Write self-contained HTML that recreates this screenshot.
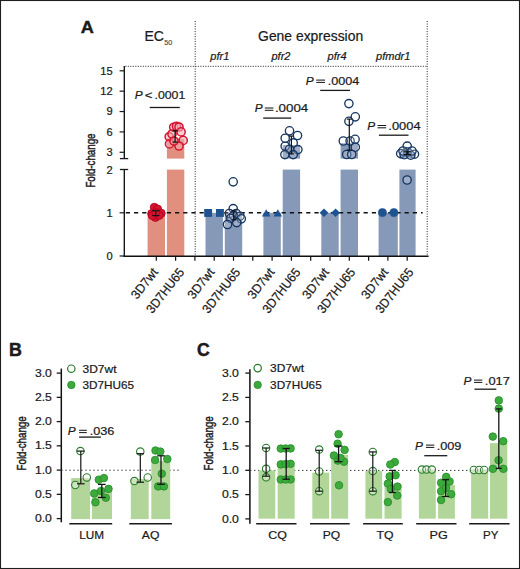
<!DOCTYPE html>
<html><head><meta charset="utf-8"><style>
html,body{margin:0;padding:0;background:#fff;}
svg{display:block;}
text{font-family:"Liberation Sans",sans-serif;stroke:#1a1a1a;stroke-width:0.22px;}
</style></head><body>
<svg width="520" height="569" viewBox="0 0 520 569">
<rect x="0" y="0" width="520" height="569" fill="#fff"/>
<rect x="0.5" y="0.5" width="519" height="568" fill="none" stroke="#1e1e1e" stroke-width="1.1"/>
<text x="80.7" y="32.8" font-size="17.4" text-anchor="start" fill="#1a1a1a" font-weight="bold" textLength="13.1" lengthAdjust="spacingAndGlyphs" style="stroke-width:0.4px">A</text>
<text x="144.5" y="41.3" font-size="14" text-anchor="start" fill="#1a1a1a" >EC</text>
<text x="164.3" y="44.7" font-size="7.2" text-anchor="start" fill="#3a3a3a" style="stroke:#3a3a3a;stroke-width:0.1px">50</text>
<text x="258.1" y="40.7" font-size="13.9" text-anchor="start" fill="#1a1a1a" >Gene expression</text>
<text x="210.3" y="59.8" font-size="11" text-anchor="start" fill="#1a1a1a" font-style="italic" >pfr1</text>
<text x="271.5" y="59.8" font-size="11" text-anchor="start" fill="#1a1a1a" font-style="italic" >pfr2</text>
<text x="327.6" y="59.8" font-size="11" text-anchor="start" fill="#1a1a1a" font-style="italic" >pfr4</text>
<text x="410.3" y="59.8" font-size="11" text-anchor="end" fill="#1a1a1a" font-style="italic" >pfmdr1</text>
<line x1="124.3" y1="66.3" x2="427.2" y2="66.3" stroke="#333" stroke-width="1.0" stroke-dasharray="1.1 1.4" stroke-dashoffset="-1.0"/>
<line x1="195.2" y1="21" x2="195.2" y2="255.5" stroke="#333" stroke-width="1.0" stroke-dasharray="1.1 1.4"/>
<line x1="427.2" y1="21" x2="427.2" y2="255.5" stroke="#333" stroke-width="1.0" stroke-dasharray="1.1 1.4"/>
<rect x="147.60" y="212.80" width="17.40" height="43.20" fill="#e1907f"/>
<rect x="166.90" y="169.60" width="17.40" height="86.40" fill="#e1907f"/>
<rect x="166.90" y="138.70" width="17.40" height="19.90" fill="#e1907f"/>
<rect x="205.50" y="212.80" width="17.40" height="43.20" fill="#8799b9"/>
<rect x="263.40" y="212.80" width="17.40" height="43.20" fill="#8799b9"/>
<rect x="321.30" y="212.80" width="17.40" height="43.20" fill="#8799b9"/>
<rect x="378.60" y="212.80" width="19.20" height="43.20" fill="#8799b9"/>
<rect x="224.80" y="212.80" width="17.40" height="43.20" fill="#8799b9"/>
<rect x="282.70" y="169.60" width="17.40" height="86.40" fill="#8799b9"/>
<rect x="340.60" y="169.60" width="17.40" height="86.40" fill="#8799b9"/>
<rect x="399.40" y="169.60" width="16.20" height="86.40" fill="#8799b9"/>
<rect x="399.40" y="152.00" width="16.20" height="6.60" fill="#8799b9"/>
<rect x="282.70" y="145.00" width="17.40" height="13.60" fill="#8799b9"/>
<rect x="340.60" y="143.20" width="17.40" height="15.40" fill="#8799b9"/>
<line x1="124.3" y1="212.8" x2="422.7" y2="212.8" stroke="#111" stroke-width="1.4" stroke-dasharray="4.2 4" stroke-dashoffset="-1.5"/>
<line x1="124.3" y1="66" x2="124.3" y2="158.6" stroke="#111" stroke-width="1.35" />
<line x1="119.9" y1="158.6" x2="128.2" y2="158.6" stroke="#1a1a1a" stroke-width="1.3" />
<line x1="124.3" y1="169.5" x2="124.3" y2="257.1" stroke="#111" stroke-width="1.35" />
<line x1="119.9" y1="169.5" x2="128.2" y2="169.5" stroke="#1a1a1a" stroke-width="1.3" />
<line x1="123.6" y1="256.3" x2="428.6" y2="256.3" stroke="#111" stroke-width="1.6" />
<line x1="119.6" y1="70.8" x2="124.3" y2="70.8" stroke="#1a1a1a" stroke-width="1.2" />
<text x="112.6" y="74.7" font-size="11.1" text-anchor="end" fill="#1a1a1a" >15</text>
<line x1="119.6" y1="91.17" x2="124.3" y2="91.17" stroke="#1a1a1a" stroke-width="1.2" />
<text x="112.6" y="95.07000000000001" font-size="11.1" text-anchor="end" fill="#1a1a1a" >12</text>
<line x1="119.6" y1="111.53999999999999" x2="124.3" y2="111.53999999999999" stroke="#1a1a1a" stroke-width="1.2" />
<text x="112.6" y="115.44" font-size="11.1" text-anchor="end" fill="#1a1a1a" >9</text>
<line x1="119.6" y1="131.91" x2="124.3" y2="131.91" stroke="#1a1a1a" stroke-width="1.2" />
<text x="112.6" y="135.81" font-size="11.1" text-anchor="end" fill="#1a1a1a" >6</text>
<line x1="119.6" y1="152.28" x2="124.3" y2="152.28" stroke="#1a1a1a" stroke-width="1.2" />
<text x="112.6" y="156.18" font-size="11.1" text-anchor="end" fill="#1a1a1a" >3</text>
<text x="112.6" y="173.5" font-size="11.1" text-anchor="end" fill="#1a1a1a" >2</text>
<line x1="119.6" y1="212.8" x2="124.3" y2="212.8" stroke="#1a1a1a" stroke-width="1.2" />
<text x="112.6" y="216.70000000000002" font-size="11.1" text-anchor="end" fill="#1a1a1a" >1</text>
<line x1="119.6" y1="256.0" x2="124.3" y2="256.0" stroke="#1a1a1a" stroke-width="1.2" />
<text x="112.6" y="259.9" font-size="11.1" text-anchor="end" fill="#1a1a1a" >0</text>
<line x1="156.3" y1="256.3" x2="156.3" y2="260.8" stroke="#111" stroke-width="1.2" />
<line x1="175.60000000000002" y1="256.3" x2="175.60000000000002" y2="260.8" stroke="#111" stroke-width="1.2" />
<line x1="194.9" y1="256.3" x2="194.9" y2="260.8" stroke="#111" stroke-width="1.2" />
<line x1="214.20000000000002" y1="256.3" x2="214.20000000000002" y2="260.8" stroke="#111" stroke-width="1.2" />
<line x1="233.5" y1="256.3" x2="233.5" y2="260.8" stroke="#111" stroke-width="1.2" />
<line x1="252.8" y1="256.3" x2="252.8" y2="260.8" stroke="#111" stroke-width="1.2" />
<line x1="272.1" y1="256.3" x2="272.1" y2="260.8" stroke="#111" stroke-width="1.2" />
<line x1="291.4" y1="256.3" x2="291.4" y2="260.8" stroke="#111" stroke-width="1.2" />
<line x1="310.70000000000005" y1="256.3" x2="310.70000000000005" y2="260.8" stroke="#111" stroke-width="1.2" />
<line x1="330.0" y1="256.3" x2="330.0" y2="260.8" stroke="#111" stroke-width="1.2" />
<line x1="349.3" y1="256.3" x2="349.3" y2="260.8" stroke="#111" stroke-width="1.2" />
<line x1="368.6" y1="256.3" x2="368.6" y2="260.8" stroke="#111" stroke-width="1.2" />
<line x1="387.90000000000003" y1="256.3" x2="387.90000000000003" y2="260.8" stroke="#111" stroke-width="1.2" />
<line x1="407.20000000000005" y1="256.3" x2="407.20000000000005" y2="260.8" stroke="#111" stroke-width="1.2" />
<text transform="translate(95.1,187.6) rotate(-90) scale(0.71,1)" font-size="13.7" fill="#1a1a1a" style="stroke-width:0.45px">Fold-change</text>
<text transform="translate(158.60,272.4) rotate(-52)" font-size="12.8" text-anchor="end" fill="#1a1a1a" textLength="35" lengthAdjust="spacingAndGlyphs">3D7wt</text>
<text transform="translate(215.10,272.4) rotate(-52)" font-size="12.8" text-anchor="end" fill="#1a1a1a" textLength="35" lengthAdjust="spacingAndGlyphs">3D7wt</text>
<text transform="translate(275.00,272.4) rotate(-52)" font-size="12.8" text-anchor="end" fill="#1a1a1a" textLength="35" lengthAdjust="spacingAndGlyphs">3D7wt</text>
<text transform="translate(329.70,272.4) rotate(-52)" font-size="12.8" text-anchor="end" fill="#1a1a1a" textLength="35" lengthAdjust="spacingAndGlyphs">3D7wt</text>
<text transform="translate(388.80,272.4) rotate(-52)" font-size="12.8" text-anchor="end" fill="#1a1a1a" textLength="35" lengthAdjust="spacingAndGlyphs">3D7wt</text>
<text transform="translate(185.00,272.4) rotate(-52)" font-size="12.8" text-anchor="end" fill="#1a1a1a" textLength="53" lengthAdjust="spacingAndGlyphs">3D7HU65</text>
<text transform="translate(240.90,272.4) rotate(-52)" font-size="12.8" text-anchor="end" fill="#1a1a1a" textLength="53" lengthAdjust="spacingAndGlyphs">3D7HU65</text>
<text transform="translate(301.10,272.4) rotate(-52)" font-size="12.8" text-anchor="end" fill="#1a1a1a" textLength="53" lengthAdjust="spacingAndGlyphs">3D7HU65</text>
<text transform="translate(355.80,272.4) rotate(-52)" font-size="12.8" text-anchor="end" fill="#1a1a1a" textLength="53" lengthAdjust="spacingAndGlyphs">3D7HU65</text>
<text transform="translate(414.10,272.4) rotate(-52)" font-size="12.8" text-anchor="end" fill="#1a1a1a" textLength="53" lengthAdjust="spacingAndGlyphs">3D7HU65</text>
<text x="134.85" y="99.1" font-size="11.8" font-style="italic" fill="#1a1a1a">P</text>
<text x="148.60" y="99.1" font-size="11.8" text-anchor="middle" fill="#1a1a1a" textLength="7.74" lengthAdjust="spacingAndGlyphs">&lt;</text>
<text x="154.50" y="99.1" font-size="11.8" fill="#1a1a1a" textLength="30.80" lengthAdjust="spacingAndGlyphs">.0001</text>
<line x1="149.7" y1="107.5" x2="179.8" y2="107.5" stroke="#1a1a1a" stroke-width="1.3" />
<text x="254.75" y="112.4" font-size="11.8" font-style="italic" fill="#1a1a1a">P</text>
<line x1="264.8" y1="108.0" x2="273.4" y2="108.0" stroke="#1a1a1a" stroke-width="1.05" />
<line x1="264.8" y1="110.30000000000001" x2="273.4" y2="110.30000000000001" stroke="#1a1a1a" stroke-width="1.05" />
<text x="274.92" y="112.4" font-size="11.8" fill="#1a1a1a" textLength="33.31" lengthAdjust="spacingAndGlyphs">.0004</text>
<line x1="263.2" y1="118.1" x2="291.2" y2="118.1" stroke="#1a1a1a" stroke-width="1.3" />
<text x="305.85" y="84.5" font-size="11.8" font-style="italic" fill="#1a1a1a">P</text>
<line x1="316.3" y1="80.1" x2="325.0" y2="80.1" stroke="#1a1a1a" stroke-width="1.05" />
<line x1="316.3" y1="82.4" x2="325.0" y2="82.4" stroke="#1a1a1a" stroke-width="1.05" />
<text x="327.68" y="84.5" font-size="11.8" fill="#1a1a1a" textLength="31.63" lengthAdjust="spacingAndGlyphs">.0004</text>
<line x1="320.2" y1="90.4" x2="350.0" y2="90.4" stroke="#1a1a1a" stroke-width="1.3" />
<text x="367.15" y="129.9" font-size="11.8" font-style="italic" fill="#1a1a1a">P</text>
<line x1="377.5" y1="125.5" x2="386.2" y2="125.5" stroke="#1a1a1a" stroke-width="1.05" />
<line x1="377.5" y1="127.80000000000001" x2="386.2" y2="127.80000000000001" stroke="#1a1a1a" stroke-width="1.05" />
<text x="388.35" y="129.9" font-size="11.8" fill="#1a1a1a" textLength="32.26" lengthAdjust="spacingAndGlyphs">.0004</text>
<line x1="378.9" y1="135.2" x2="408.5" y2="135.2" stroke="#1a1a1a" stroke-width="1.3" />
<circle cx="154.30" cy="207.30" r="4.0" fill="#d5152f" stroke="#b8001e" stroke-width="0.9"/>
<circle cx="157.60" cy="209.00" r="4.0" fill="#d5152f" stroke="#b8001e" stroke-width="0.9"/>
<circle cx="151.70" cy="213.60" r="4.0" fill="#d5152f" stroke="#b8001e" stroke-width="0.9"/>
<circle cx="161.20" cy="213.20" r="4.0" fill="#d5152f" stroke="#b8001e" stroke-width="0.9"/>
<circle cx="155.40" cy="217.40" r="4.0" fill="#d5152f" stroke="#b8001e" stroke-width="0.9"/>
<circle cx="152.40" cy="215.60" r="4.0" fill="#d5152f" stroke="#b8001e" stroke-width="0.9"/>
<circle cx="159.20" cy="215.40" r="4.0" fill="#d5152f" stroke="#b8001e" stroke-width="0.9"/>
<circle cx="156.00" cy="212.50" r="4.0" fill="#d5152f" stroke="#b8001e" stroke-width="0.9"/>
<line x1="155.8" y1="210.7" x2="155.8" y2="215.6" stroke="#141414" stroke-width="1.2" />
<line x1="152.20000000000002" y1="210.7" x2="159.4" y2="210.7" stroke="#141414" stroke-width="1.2" />
<line x1="152.20000000000002" y1="215.6" x2="159.4" y2="215.6" stroke="#141414" stroke-width="1.2" />
<circle cx="173.70" cy="127.30" r="4.1" fill="#f4aab4" fill-opacity="0.55" stroke="#d5152f" stroke-width="1.5"/>
<circle cx="176.50" cy="126.30" r="4.1" fill="#f4aab4" fill-opacity="0.55" stroke="#d5152f" stroke-width="1.5"/>
<circle cx="179.00" cy="127.00" r="4.1" fill="#f4aab4" fill-opacity="0.55" stroke="#d5152f" stroke-width="1.5"/>
<circle cx="181.10" cy="131.90" r="4.1" fill="#f4aab4" fill-opacity="0.55" stroke="#d5152f" stroke-width="1.5"/>
<circle cx="169.20" cy="136.80" r="4.1" fill="#f4aab4" fill-opacity="0.55" stroke="#d5152f" stroke-width="1.5"/>
<circle cx="172.00" cy="134.00" r="4.1" fill="#f4aab4" fill-opacity="0.55" stroke="#d5152f" stroke-width="1.5"/>
<circle cx="183.20" cy="140.40" r="4.1" fill="#f4aab4" fill-opacity="0.55" stroke="#d5152f" stroke-width="1.5"/>
<circle cx="169.50" cy="143.90" r="4.1" fill="#f4aab4" fill-opacity="0.55" stroke="#d5152f" stroke-width="1.5"/>
<circle cx="179.00" cy="146.00" r="4.1" fill="#f4aab4" fill-opacity="0.55" stroke="#d5152f" stroke-width="1.5"/>
<circle cx="174.00" cy="141.00" r="4.1" fill="#f4aab4" fill-opacity="0.55" stroke="#d5152f" stroke-width="1.5"/>
<line x1="175.1" y1="130.8" x2="175.1" y2="142.1" stroke="#141414" stroke-width="1.3" />
<line x1="172.6" y1="130.8" x2="177.6" y2="130.8" stroke="#141414" stroke-width="1.3" />
<line x1="172.6" y1="142.1" x2="177.6" y2="142.1" stroke="#141414" stroke-width="1.3" />
<rect x="204.20" y="209.0" width="7.9" height="7.9" fill="#1d5391"/>
<rect x="216.00" y="209.0" width="7.9" height="7.9" fill="#1d5391"/>
<circle cx="233.20" cy="181.80" r="4.15" fill="#ffffff" fill-opacity="0.2" stroke="#163762" stroke-width="1.35"/>
<circle cx="233.20" cy="208.60" r="4.15" fill="#ffffff" fill-opacity="0.2" stroke="#163762" stroke-width="1.35"/>
<circle cx="229.40" cy="213.50" r="4.15" fill="#ffffff" fill-opacity="0.2" stroke="#163762" stroke-width="1.35"/>
<circle cx="236.20" cy="213.50" r="4.15" fill="#ffffff" fill-opacity="0.2" stroke="#163762" stroke-width="1.35"/>
<circle cx="233.50" cy="215.60" r="4.15" fill="#ffffff" fill-opacity="0.2" stroke="#163762" stroke-width="1.35"/>
<circle cx="239.90" cy="216.20" r="4.15" fill="#ffffff" fill-opacity="0.2" stroke="#163762" stroke-width="1.35"/>
<circle cx="241.30" cy="218.80" r="4.15" fill="#ffffff" fill-opacity="0.2" stroke="#163762" stroke-width="1.35"/>
<circle cx="230.80" cy="218.30" r="4.15" fill="#ffffff" fill-opacity="0.2" stroke="#163762" stroke-width="1.35"/>
<circle cx="236.70" cy="222.60" r="4.15" fill="#ffffff" fill-opacity="0.2" stroke="#163762" stroke-width="1.35"/>
<circle cx="227.50" cy="224.50" r="4.15" fill="#ffffff" fill-opacity="0.2" stroke="#163762" stroke-width="1.35"/>
<line x1="233.7" y1="210.8" x2="233.7" y2="219.9" stroke="#141414" stroke-width="1.2" />
<line x1="231.2" y1="210.8" x2="236.2" y2="210.8" stroke="#141414" stroke-width="1.2" />
<line x1="231.2" y1="219.9" x2="236.2" y2="219.9" stroke="#141414" stroke-width="1.2" />
<polygon points="261.90,216.5 270.50,216.5 266.20,209.2" fill="#1d5391"/>
<polygon points="273.50,216.5 282.10,216.5 277.80,209.2" fill="#1d5391"/>
<circle cx="289.50" cy="130.80" r="4.15" fill="#ffffff" fill-opacity="0.2" stroke="#163762" stroke-width="1.35"/>
<circle cx="297.50" cy="135.50" r="4.15" fill="#ffffff" fill-opacity="0.2" stroke="#163762" stroke-width="1.35"/>
<circle cx="285.20" cy="138.20" r="4.15" fill="#ffffff" fill-opacity="0.2" stroke="#163762" stroke-width="1.35"/>
<circle cx="293.20" cy="142.90" r="4.15" fill="#ffffff" fill-opacity="0.2" stroke="#163762" stroke-width="1.35"/>
<circle cx="285.20" cy="146.20" r="4.15" fill="#ffffff" fill-opacity="0.2" stroke="#163762" stroke-width="1.35"/>
<circle cx="289.50" cy="149.30" r="4.15" fill="#ffffff" fill-opacity="0.2" stroke="#163762" stroke-width="1.35"/>
<circle cx="297.90" cy="149.60" r="4.15" fill="#ffffff" fill-opacity="0.2" stroke="#163762" stroke-width="1.35"/>
<circle cx="284.90" cy="154.60" r="4.15" fill="#ffffff" fill-opacity="0.2" stroke="#163762" stroke-width="1.35"/>
<circle cx="293.20" cy="154.60" r="4.15" fill="#ffffff" fill-opacity="0.2" stroke="#163762" stroke-width="1.35"/>
<line x1="291.4" y1="136.1" x2="291.4" y2="153.9" stroke="#141414" stroke-width="1.2" />
<line x1="288.9" y1="136.1" x2="293.9" y2="136.1" stroke="#141414" stroke-width="1.2" />
<line x1="288.9" y1="153.9" x2="293.9" y2="153.9" stroke="#141414" stroke-width="1.2" />
<polygon points="324.00,208.4 328.40,212.7 324.00,217.0 319.60,212.7" fill="#1d5391"/>
<polygon points="335.60,208.4 340.00,212.7 335.60,217.0 331.20,212.7" fill="#1d5391"/>
<circle cx="348.90" cy="103.60" r="4.15" fill="#ffffff" fill-opacity="0.2" stroke="#163762" stroke-width="1.35"/>
<circle cx="355.30" cy="116.80" r="4.15" fill="#ffffff" fill-opacity="0.2" stroke="#163762" stroke-width="1.35"/>
<circle cx="348.90" cy="121.30" r="4.15" fill="#ffffff" fill-opacity="0.2" stroke="#163762" stroke-width="1.35"/>
<circle cx="343.30" cy="141.00" r="4.15" fill="#ffffff" fill-opacity="0.2" stroke="#163762" stroke-width="1.35"/>
<circle cx="350.10" cy="141.00" r="4.15" fill="#ffffff" fill-opacity="0.2" stroke="#163762" stroke-width="1.35"/>
<circle cx="355.10" cy="139.30" r="4.15" fill="#ffffff" fill-opacity="0.2" stroke="#163762" stroke-width="1.35"/>
<circle cx="355.30" cy="147.20" r="4.15" fill="#ffffff" fill-opacity="0.2" stroke="#163762" stroke-width="1.35"/>
<circle cx="346.70" cy="154.50" r="4.15" fill="#ffffff" fill-opacity="0.2" stroke="#163762" stroke-width="1.35"/>
<circle cx="351.70" cy="154.50" r="4.15" fill="#ffffff" fill-opacity="0.2" stroke="#163762" stroke-width="1.35"/>
<line x1="349.3" y1="119.1" x2="349.3" y2="150" stroke="#141414" stroke-width="1.2" />
<line x1="346.8" y1="119.1" x2="351.8" y2="119.1" stroke="#141414" stroke-width="1.2" />
<line x1="346.8" y1="150" x2="351.8" y2="150" stroke="#141414" stroke-width="1.2" />
<circle cx="382.40" cy="212.60" r="4.1" fill="#1d5391" stroke="#1d5391" stroke-width="0.5"/>
<circle cx="393.90" cy="212.60" r="4.1" fill="#1d5391" stroke="#1d5391" stroke-width="0.5"/>
<circle cx="407.20" cy="146.10" r="4.15" fill="#ffffff" fill-opacity="0.2" stroke="#163762" stroke-width="1.35"/>
<circle cx="400.70" cy="153.60" r="4.15" fill="#ffffff" fill-opacity="0.2" stroke="#163762" stroke-width="1.35"/>
<circle cx="414.50" cy="154.20" r="4.15" fill="#ffffff" fill-opacity="0.2" stroke="#163762" stroke-width="1.35"/>
<circle cx="407.50" cy="152.00" r="4.15" fill="#ffffff" fill-opacity="0.2" stroke="#163762" stroke-width="1.35"/>
<circle cx="404.20" cy="154.70" r="4.15" fill="#ffffff" fill-opacity="0.2" stroke="#163762" stroke-width="1.35"/>
<circle cx="410.70" cy="155.20" r="4.15" fill="#ffffff" fill-opacity="0.2" stroke="#163762" stroke-width="1.35"/>
<circle cx="403.00" cy="151.00" r="4.15" fill="#ffffff" fill-opacity="0.2" stroke="#163762" stroke-width="1.35"/>
<circle cx="412.00" cy="151.00" r="4.15" fill="#ffffff" fill-opacity="0.2" stroke="#163762" stroke-width="1.35"/>
<circle cx="407.10" cy="180.00" r="4.15" fill="#ffffff" fill-opacity="0.2" stroke="#163762" stroke-width="1.35"/>
<line x1="407.3" y1="151.8" x2="407.3" y2="154.6" stroke="#141414" stroke-width="1.2" />
<line x1="403.8" y1="151.8" x2="410.8" y2="151.8" stroke="#141414" stroke-width="1.2" />
<line x1="403.8" y1="154.6" x2="410.8" y2="154.6" stroke="#141414" stroke-width="1.2" />
<text x="9.0" y="355.8" font-size="17.8" text-anchor="start" fill="#1a1a1a" font-weight="bold" style="stroke-width:0.5px">B</text>
<text x="197.0" y="355.6" font-size="17.6" text-anchor="start" fill="#1a1a1a" font-weight="bold" style="stroke-width:0.5px">C</text>
<line x1="61.3" y1="368.6" x2="61.3" y2="522.3" stroke="#111" stroke-width="1.5" />
<line x1="56.699999999999996" y1="518.6" x2="61.3" y2="518.6" stroke="#1a1a1a" stroke-width="1.3" />
<text x="51.9" y="522.2" font-size="11.3" text-anchor="end" fill="#1a1a1a" textLength="17.0" lengthAdjust="spacingAndGlyphs" >0.0</text>
<line x1="56.699999999999996" y1="494.35" x2="61.3" y2="494.35" stroke="#1a1a1a" stroke-width="1.3" />
<text x="51.9" y="497.95000000000005" font-size="11.3" text-anchor="end" fill="#1a1a1a" textLength="17.0" lengthAdjust="spacingAndGlyphs" >0.5</text>
<line x1="56.699999999999996" y1="470.1" x2="61.3" y2="470.1" stroke="#1a1a1a" stroke-width="1.3" />
<text x="51.9" y="473.70000000000005" font-size="11.3" text-anchor="end" fill="#1a1a1a" textLength="17.0" lengthAdjust="spacingAndGlyphs" >1.0</text>
<line x1="56.699999999999996" y1="445.85" x2="61.3" y2="445.85" stroke="#1a1a1a" stroke-width="1.3" />
<text x="51.9" y="449.45000000000005" font-size="11.3" text-anchor="end" fill="#1a1a1a" textLength="17.0" lengthAdjust="spacingAndGlyphs" >1.5</text>
<line x1="56.699999999999996" y1="421.6" x2="61.3" y2="421.6" stroke="#1a1a1a" stroke-width="1.3" />
<text x="51.9" y="425.20000000000005" font-size="11.3" text-anchor="end" fill="#1a1a1a" textLength="17.0" lengthAdjust="spacingAndGlyphs" >2.0</text>
<line x1="56.699999999999996" y1="397.35" x2="61.3" y2="397.35" stroke="#1a1a1a" stroke-width="1.3" />
<text x="51.9" y="400.95000000000005" font-size="11.3" text-anchor="end" fill="#1a1a1a" textLength="17.0" lengthAdjust="spacingAndGlyphs" >2.5</text>
<line x1="56.699999999999996" y1="373.1" x2="61.3" y2="373.1" stroke="#1a1a1a" stroke-width="1.3" />
<text x="51.9" y="376.70000000000005" font-size="11.3" text-anchor="end" fill="#1a1a1a" textLength="17.0" lengthAdjust="spacingAndGlyphs" >3.0</text>
<line x1="249.9" y1="369.2" x2="249.9" y2="523.8" stroke="#111" stroke-width="1.5" />
<line x1="245.3" y1="518.9" x2="249.9" y2="518.9" stroke="#1a1a1a" stroke-width="1.3" />
<text x="238.9" y="522.5" font-size="11.3" text-anchor="end" fill="#1a1a1a" textLength="17.0" lengthAdjust="spacingAndGlyphs" >0.0</text>
<line x1="245.3" y1="494.59999999999997" x2="249.9" y2="494.59999999999997" stroke="#1a1a1a" stroke-width="1.3" />
<text x="238.9" y="498.2" font-size="11.3" text-anchor="end" fill="#1a1a1a" textLength="17.0" lengthAdjust="spacingAndGlyphs" >0.5</text>
<line x1="245.3" y1="470.29999999999995" x2="249.9" y2="470.29999999999995" stroke="#1a1a1a" stroke-width="1.3" />
<text x="238.9" y="473.9" font-size="11.3" text-anchor="end" fill="#1a1a1a" textLength="17.0" lengthAdjust="spacingAndGlyphs" >1.0</text>
<line x1="245.3" y1="446.0" x2="249.9" y2="446.0" stroke="#1a1a1a" stroke-width="1.3" />
<text x="238.9" y="449.6" font-size="11.3" text-anchor="end" fill="#1a1a1a" textLength="17.0" lengthAdjust="spacingAndGlyphs" >1.5</text>
<line x1="245.3" y1="421.7" x2="249.9" y2="421.7" stroke="#1a1a1a" stroke-width="1.3" />
<text x="238.9" y="425.3" font-size="11.3" text-anchor="end" fill="#1a1a1a" textLength="17.0" lengthAdjust="spacingAndGlyphs" >2.0</text>
<line x1="245.3" y1="397.4" x2="249.9" y2="397.4" stroke="#1a1a1a" stroke-width="1.3" />
<text x="238.9" y="401.0" font-size="11.3" text-anchor="end" fill="#1a1a1a" textLength="17.0" lengthAdjust="spacingAndGlyphs" >2.5</text>
<line x1="245.3" y1="373.09999999999997" x2="249.9" y2="373.09999999999997" stroke="#1a1a1a" stroke-width="1.3" />
<text x="238.9" y="376.7" font-size="11.3" text-anchor="end" fill="#1a1a1a" textLength="17.0" lengthAdjust="spacingAndGlyphs" >3.0</text>
<text transform="translate(25.8,470.4) rotate(-90) scale(0.71,1)" font-size="13.7" fill="#1a1a1a" style="stroke-width:0.45px">Fold-change</text>
<text transform="translate(213.3,470.4) rotate(-90) scale(0.71,1)" font-size="13.7" fill="#1a1a1a" style="stroke-width:0.45px">Fold-change</text>
<circle cx="71.30" cy="368.70" r="3.7" fill="#ffffff" stroke="#2a7a2e" stroke-width="1.2"/>
<circle cx="71.30" cy="385.00" r="3.7" fill="#3cab3c" stroke="#248a2a" stroke-width="0.8"/>
<text x="82.5" y="372.8" font-size="11.4" text-anchor="start" fill="#1a1a1a" textLength="34.0" lengthAdjust="spacingAndGlyphs" >3D7wt</text>
<text x="82.5" y="389.1" font-size="11.4" text-anchor="start" fill="#1a1a1a" textLength="51.6" lengthAdjust="spacingAndGlyphs" >3D7HU65</text>
<circle cx="257.70" cy="368.10" r="3.7" fill="#ffffff" stroke="#2a7a2e" stroke-width="1.2"/>
<circle cx="257.70" cy="384.90" r="3.7" fill="#3cab3c" stroke="#248a2a" stroke-width="0.8"/>
<text x="270.09999999999997" y="372.20000000000005" font-size="11.4" text-anchor="start" fill="#1a1a1a" textLength="34.0" lengthAdjust="spacingAndGlyphs" >3D7wt</text>
<text x="270.09999999999997" y="389.0" font-size="11.4" text-anchor="start" fill="#1a1a1a" textLength="51.6" lengthAdjust="spacingAndGlyphs" >3D7HU65</text>
<line x1="61.3" y1="470.2" x2="181" y2="470.2" stroke="#333" stroke-width="1.0" stroke-dasharray="1.4 2.6"/>
<line x1="250" y1="470.4" x2="510" y2="470.4" stroke="#333" stroke-width="1.0" stroke-dasharray="1.4 2.6"/>
<rect x="71.20" y="478.10" width="18.90" height="41.00" fill="#b2d69a"/>
<rect x="91.90" y="489.50" width="20.10" height="29.60" fill="#b2d69a"/>
<rect x="130.80" y="479.00" width="17.90" height="40.10" fill="#b2d69a"/>
<rect x="151.30" y="461.10" width="18.90" height="58.00" fill="#b2d69a"/>
<rect x="258.50" y="470.40" width="16.80" height="48.30" fill="#b2d69a"/>
<rect x="277.60" y="465.00" width="17.10" height="53.70" fill="#b2d69a"/>
<rect x="312.30" y="472.70" width="16.90" height="46.00" fill="#b2d69a"/>
<rect x="331.20" y="454.90" width="16.90" height="63.80" fill="#b2d69a"/>
<rect x="365.40" y="471.10" width="16.80" height="47.60" fill="#b2d69a"/>
<rect x="384.50" y="484.00" width="17.10" height="34.70" fill="#b2d69a"/>
<rect x="418.90" y="469.50" width="16.90" height="49.20" fill="#b2d69a"/>
<rect x="438.10" y="485.00" width="16.80" height="33.70" fill="#b2d69a"/>
<rect x="471.10" y="469.50" width="17.10" height="49.20" fill="#b2d69a"/>
<rect x="490.00" y="443.10" width="17.30" height="75.60" fill="#b2d69a"/>
<circle cx="80.40" cy="451.10" r="3.7" fill="#ffffff" fill-opacity="0.35" stroke="#2a7a2e" stroke-width="1.1"/>
<circle cx="86.80" cy="477.40" r="3.7" fill="#ffffff" fill-opacity="0.35" stroke="#2a7a2e" stroke-width="1.1"/>
<circle cx="75.30" cy="485.00" r="3.7" fill="#ffffff" fill-opacity="0.35" stroke="#2a7a2e" stroke-width="1.1"/>
<line x1="80.8" y1="451.1" x2="80.8" y2="483.8" stroke="#141414" stroke-width="1.2" />
<line x1="77.0" y1="451.1" x2="84.6" y2="451.1" stroke="#141414" stroke-width="1.2" />
<line x1="77.0" y1="483.8" x2="84.6" y2="483.8" stroke="#141414" stroke-width="1.2" />
<circle cx="98.80" cy="479.70" r="3.8" fill="#3cab3c" stroke="#248a2a" stroke-width="0.8"/>
<circle cx="103.90" cy="478.10" r="3.8" fill="#3cab3c" stroke="#248a2a" stroke-width="0.8"/>
<circle cx="94.20" cy="493.50" r="3.8" fill="#3cab3c" stroke="#248a2a" stroke-width="0.8"/>
<circle cx="108.50" cy="488.90" r="3.8" fill="#3cab3c" stroke="#248a2a" stroke-width="0.8"/>
<circle cx="105.80" cy="497.70" r="3.8" fill="#3cab3c" stroke="#248a2a" stroke-width="0.8"/>
<circle cx="95.40" cy="502.30" r="3.8" fill="#3cab3c" stroke="#248a2a" stroke-width="0.8"/>
<circle cx="101.00" cy="491.00" r="3.8" fill="#3cab3c" stroke="#248a2a" stroke-width="0.8"/>
<line x1="101.8" y1="484.4" x2="101.8" y2="497.5" stroke="#141414" stroke-width="1.3" />
<line x1="97.95" y1="484.4" x2="105.64999999999999" y2="484.4" stroke="#141414" stroke-width="1.3" />
<line x1="97.95" y1="497.5" x2="105.64999999999999" y2="497.5" stroke="#141414" stroke-width="1.3" />
<circle cx="140.30" cy="451.60" r="3.7" fill="#ffffff" fill-opacity="0.35" stroke="#2a7a2e" stroke-width="1.1"/>
<circle cx="134.40" cy="481.10" r="3.7" fill="#ffffff" fill-opacity="0.35" stroke="#2a7a2e" stroke-width="1.1"/>
<circle cx="147.70" cy="477.50" r="3.7" fill="#ffffff" fill-opacity="0.35" stroke="#2a7a2e" stroke-width="1.1"/>
<line x1="140.3" y1="453.7" x2="140.3" y2="482.2" stroke="#141414" stroke-width="1.2" />
<line x1="136.5" y1="453.7" x2="144.10000000000002" y2="453.7" stroke="#141414" stroke-width="1.2" />
<line x1="136.5" y1="482.2" x2="144.10000000000002" y2="482.2" stroke="#141414" stroke-width="1.2" />
<circle cx="155.50" cy="450.50" r="3.8" fill="#3cab3c" stroke="#248a2a" stroke-width="0.8"/>
<circle cx="160.30" cy="451.60" r="3.8" fill="#3cab3c" stroke="#248a2a" stroke-width="0.8"/>
<circle cx="155.10" cy="460.00" r="3.8" fill="#3cab3c" stroke="#248a2a" stroke-width="0.8"/>
<circle cx="167.30" cy="459.00" r="3.8" fill="#3cab3c" stroke="#248a2a" stroke-width="0.8"/>
<circle cx="161.80" cy="473.70" r="3.8" fill="#3cab3c" stroke="#248a2a" stroke-width="0.8"/>
<circle cx="158.20" cy="486.40" r="3.8" fill="#3cab3c" stroke="#248a2a" stroke-width="0.8"/>
<circle cx="163.90" cy="486.40" r="3.8" fill="#3cab3c" stroke="#248a2a" stroke-width="0.8"/>
<line x1="161" y1="455.8" x2="161" y2="484.3" stroke="#141414" stroke-width="1.3" />
<line x1="157.2" y1="455.8" x2="164.8" y2="455.8" stroke="#141414" stroke-width="1.3" />
<line x1="157.2" y1="484.3" x2="164.8" y2="484.3" stroke="#141414" stroke-width="1.3" />
<circle cx="266.10" cy="448.00" r="3.7" fill="#ffffff" fill-opacity="0.35" stroke="#2a7a2e" stroke-width="1.1"/>
<circle cx="266.10" cy="468.80" r="3.7" fill="#ffffff" fill-opacity="0.35" stroke="#2a7a2e" stroke-width="1.1"/>
<circle cx="266.10" cy="477.30" r="3.7" fill="#ffffff" fill-opacity="0.35" stroke="#2a7a2e" stroke-width="1.1"/>
<line x1="266.1" y1="448" x2="266.1" y2="476.2" stroke="#141414" stroke-width="1.2" />
<line x1="262.6" y1="448" x2="269.6" y2="448" stroke="#141414" stroke-width="1.2" />
<line x1="262.6" y1="476.2" x2="269.6" y2="476.2" stroke="#141414" stroke-width="1.2" />
<circle cx="280.80" cy="448.60" r="3.8" fill="#3cab3c" stroke="#248a2a" stroke-width="0.8"/>
<circle cx="290.60" cy="448.40" r="3.8" fill="#3cab3c" stroke="#248a2a" stroke-width="0.8"/>
<circle cx="285.70" cy="448.50" r="3.8" fill="#3cab3c" stroke="#248a2a" stroke-width="0.8"/>
<circle cx="280.80" cy="464.40" r="3.8" fill="#3cab3c" stroke="#248a2a" stroke-width="0.8"/>
<circle cx="290.60" cy="463.80" r="3.8" fill="#3cab3c" stroke="#248a2a" stroke-width="0.8"/>
<circle cx="285.70" cy="464.10" r="3.8" fill="#3cab3c" stroke="#248a2a" stroke-width="0.8"/>
<circle cx="280.80" cy="479.50" r="3.8" fill="#3cab3c" stroke="#248a2a" stroke-width="0.8"/>
<circle cx="290.60" cy="479.50" r="3.8" fill="#3cab3c" stroke="#248a2a" stroke-width="0.8"/>
<circle cx="285.70" cy="479.50" r="3.8" fill="#3cab3c" stroke="#248a2a" stroke-width="0.8"/>
<line x1="286.2" y1="448.5" x2="286.2" y2="479.2" stroke="#141414" stroke-width="1.3" />
<line x1="282.7" y1="448.5" x2="289.7" y2="448.5" stroke="#141414" stroke-width="1.3" />
<line x1="282.7" y1="479.2" x2="289.7" y2="479.2" stroke="#141414" stroke-width="1.3" />
<circle cx="319.20" cy="449.60" r="3.7" fill="#ffffff" fill-opacity="0.35" stroke="#2a7a2e" stroke-width="1.1"/>
<circle cx="319.20" cy="471.50" r="3.7" fill="#ffffff" fill-opacity="0.35" stroke="#2a7a2e" stroke-width="1.1"/>
<circle cx="319.20" cy="491.20" r="3.7" fill="#ffffff" fill-opacity="0.35" stroke="#2a7a2e" stroke-width="1.1"/>
<line x1="319.2" y1="450.3" x2="319.2" y2="491.2" stroke="#141414" stroke-width="1.2" />
<line x1="315.7" y1="450.3" x2="322.7" y2="450.3" stroke="#141414" stroke-width="1.2" />
<line x1="315.7" y1="491.2" x2="322.7" y2="491.2" stroke="#141414" stroke-width="1.2" />
<circle cx="338.60" cy="434.20" r="3.8" fill="#3cab3c" stroke="#248a2a" stroke-width="0.8"/>
<circle cx="337.60" cy="443.70" r="3.8" fill="#3cab3c" stroke="#248a2a" stroke-width="0.8"/>
<circle cx="344.60" cy="449.90" r="3.8" fill="#3cab3c" stroke="#248a2a" stroke-width="0.8"/>
<circle cx="333.90" cy="455.50" r="3.8" fill="#3cab3c" stroke="#248a2a" stroke-width="0.8"/>
<circle cx="337.80" cy="460.60" r="3.8" fill="#3cab3c" stroke="#248a2a" stroke-width="0.8"/>
<circle cx="344.00" cy="461.70" r="3.8" fill="#3cab3c" stroke="#248a2a" stroke-width="0.8"/>
<circle cx="340.50" cy="458.00" r="3.8" fill="#3cab3c" stroke="#248a2a" stroke-width="0.8"/>
<circle cx="339.00" cy="485.30" r="3.8" fill="#3cab3c" stroke="#248a2a" stroke-width="0.8"/>
<line x1="338.6" y1="446" x2="338.6" y2="461.7" stroke="#141414" stroke-width="1.3" />
<line x1="334.8" y1="446" x2="342.40000000000003" y2="446" stroke="#141414" stroke-width="1.3" />
<line x1="334.8" y1="461.7" x2="342.40000000000003" y2="461.7" stroke="#141414" stroke-width="1.3" />
<circle cx="372.80" cy="451.90" r="3.7" fill="#ffffff" fill-opacity="0.35" stroke="#2a7a2e" stroke-width="1.1"/>
<circle cx="372.80" cy="471.10" r="3.7" fill="#ffffff" fill-opacity="0.35" stroke="#2a7a2e" stroke-width="1.1"/>
<circle cx="372.80" cy="491.20" r="3.7" fill="#ffffff" fill-opacity="0.35" stroke="#2a7a2e" stroke-width="1.1"/>
<line x1="372.8" y1="451.9" x2="372.8" y2="491.2" stroke="#141414" stroke-width="1.2" />
<line x1="369.3" y1="451.9" x2="376.3" y2="451.9" stroke="#141414" stroke-width="1.2" />
<line x1="369.3" y1="491.2" x2="376.3" y2="491.2" stroke="#141414" stroke-width="1.2" />
<circle cx="394.80" cy="462.10" r="3.8" fill="#3cab3c" stroke="#248a2a" stroke-width="0.8"/>
<circle cx="390.30" cy="464.50" r="3.8" fill="#3cab3c" stroke="#248a2a" stroke-width="0.8"/>
<circle cx="395.60" cy="475.20" r="3.8" fill="#3cab3c" stroke="#248a2a" stroke-width="0.8"/>
<circle cx="389.70" cy="476.40" r="3.8" fill="#3cab3c" stroke="#248a2a" stroke-width="0.8"/>
<circle cx="387.90" cy="483.60" r="3.8" fill="#3cab3c" stroke="#248a2a" stroke-width="0.8"/>
<circle cx="397.40" cy="486.60" r="3.8" fill="#3cab3c" stroke="#248a2a" stroke-width="0.8"/>
<circle cx="390.90" cy="489.00" r="3.8" fill="#3cab3c" stroke="#248a2a" stroke-width="0.8"/>
<circle cx="397.20" cy="495.50" r="3.8" fill="#3cab3c" stroke="#248a2a" stroke-width="0.8"/>
<circle cx="387.90" cy="502.10" r="3.8" fill="#3cab3c" stroke="#248a2a" stroke-width="0.8"/>
<line x1="392.4" y1="470.4" x2="392.4" y2="492.5" stroke="#141414" stroke-width="1.3" />
<line x1="388.9" y1="470.4" x2="395.9" y2="470.4" stroke="#141414" stroke-width="1.3" />
<line x1="388.9" y1="492.5" x2="395.9" y2="492.5" stroke="#141414" stroke-width="1.3" />
<circle cx="421.90" cy="469.60" r="3.7" fill="#ffffff" fill-opacity="0.35" stroke="#2a7a2e" stroke-width="1.1"/>
<circle cx="426.50" cy="469.60" r="3.7" fill="#ffffff" fill-opacity="0.35" stroke="#2a7a2e" stroke-width="1.1"/>
<circle cx="431.80" cy="469.60" r="3.7" fill="#ffffff" fill-opacity="0.35" stroke="#2a7a2e" stroke-width="1.1"/>
<circle cx="446.20" cy="476.90" r="3.8" fill="#3cab3c" stroke="#248a2a" stroke-width="0.8"/>
<circle cx="441.10" cy="482.70" r="3.8" fill="#3cab3c" stroke="#248a2a" stroke-width="0.8"/>
<circle cx="449.60" cy="481.50" r="3.8" fill="#3cab3c" stroke="#248a2a" stroke-width="0.8"/>
<circle cx="441.10" cy="491.20" r="3.8" fill="#3cab3c" stroke="#248a2a" stroke-width="0.8"/>
<circle cx="451.20" cy="494.20" r="3.8" fill="#3cab3c" stroke="#248a2a" stroke-width="0.8"/>
<circle cx="441.10" cy="500.00" r="3.8" fill="#3cab3c" stroke="#248a2a" stroke-width="0.8"/>
<circle cx="446.00" cy="488.00" r="3.8" fill="#3cab3c" stroke="#248a2a" stroke-width="0.8"/>
<line x1="445.7" y1="479.7" x2="445.7" y2="496.5" stroke="#141414" stroke-width="1.3" />
<line x1="442.2" y1="479.7" x2="449.2" y2="479.7" stroke="#141414" stroke-width="1.3" />
<line x1="442.2" y1="496.5" x2="449.2" y2="496.5" stroke="#141414" stroke-width="1.3" />
<circle cx="473.80" cy="470.00" r="3.7" fill="#ffffff" fill-opacity="0.35" stroke="#2a7a2e" stroke-width="1.1"/>
<circle cx="479.00" cy="470.00" r="3.7" fill="#ffffff" fill-opacity="0.35" stroke="#2a7a2e" stroke-width="1.1"/>
<circle cx="484.20" cy="470.00" r="3.7" fill="#ffffff" fill-opacity="0.35" stroke="#2a7a2e" stroke-width="1.1"/>
<circle cx="498.80" cy="400.40" r="3.8" fill="#3cab3c" stroke="#248a2a" stroke-width="0.8"/>
<circle cx="498.80" cy="408.60" r="3.8" fill="#3cab3c" stroke="#248a2a" stroke-width="0.8"/>
<circle cx="492.80" cy="436.60" r="3.8" fill="#3cab3c" stroke="#248a2a" stroke-width="0.8"/>
<circle cx="503.20" cy="441.20" r="3.8" fill="#3cab3c" stroke="#248a2a" stroke-width="0.8"/>
<circle cx="498.60" cy="460.20" r="3.8" fill="#3cab3c" stroke="#248a2a" stroke-width="0.8"/>
<circle cx="492.90" cy="468.80" r="3.8" fill="#3cab3c" stroke="#248a2a" stroke-width="0.8"/>
<circle cx="503.30" cy="468.80" r="3.8" fill="#3cab3c" stroke="#248a2a" stroke-width="0.8"/>
<line x1="498.8" y1="408.9" x2="498.8" y2="468.4" stroke="#141414" stroke-width="1.3" />
<line x1="495.8" y1="408.9" x2="501.8" y2="408.9" stroke="#141414" stroke-width="1.3" />
<line x1="495.8" y1="468.4" x2="501.8" y2="468.4" stroke="#141414" stroke-width="1.3" />
<line x1="69.3" y1="523.8" x2="112.2" y2="523.8" stroke="#1a1a1a" stroke-width="1.6" />
<line x1="129.3" y1="523.8" x2="171.9" y2="523.8" stroke="#1a1a1a" stroke-width="1.6" />
<line x1="256.2" y1="523.8" x2="296.5" y2="523.8" stroke="#1a1a1a" stroke-width="1.6" />
<line x1="310" y1="523.8" x2="349.7" y2="523.8" stroke="#1a1a1a" stroke-width="1.6" />
<line x1="363.1" y1="523.8" x2="402.8" y2="523.8" stroke="#1a1a1a" stroke-width="1.6" />
<line x1="416.2" y1="523.8" x2="456.5" y2="523.8" stroke="#1a1a1a" stroke-width="1.6" />
<line x1="469.2" y1="523.8" x2="509.6" y2="523.8" stroke="#1a1a1a" stroke-width="1.6" />
<text x="91.6" y="539.3" font-size="11.8" text-anchor="middle" fill="#1a1a1a" textLength="24.8" lengthAdjust="spacingAndGlyphs" >LUM</text>
<text x="150.6" y="539.3" font-size="11.8" text-anchor="middle" fill="#1a1a1a" textLength="17.6" lengthAdjust="spacingAndGlyphs" >AQ</text>
<text x="277.6" y="539.3" font-size="11.8" text-anchor="middle" fill="#1a1a1a" textLength="18.6" lengthAdjust="spacingAndGlyphs" >CQ</text>
<text x="331.4" y="539.3" font-size="11.8" text-anchor="middle" fill="#1a1a1a" textLength="17.4" lengthAdjust="spacingAndGlyphs" >PQ</text>
<text x="385.0" y="539.3" font-size="11.8" text-anchor="middle" fill="#1a1a1a" textLength="17.0" lengthAdjust="spacingAndGlyphs" >TQ</text>
<text x="438.6" y="539.3" font-size="11.8" text-anchor="middle" fill="#1a1a1a" textLength="18.2" lengthAdjust="spacingAndGlyphs" >PG</text>
<text x="490.8" y="539.3" font-size="11.8" text-anchor="middle" fill="#1a1a1a" textLength="15.4" lengthAdjust="spacingAndGlyphs" >PY</text>
<text x="67.85" y="434.7" font-size="11.8" font-style="italic" fill="#1a1a1a">P</text>
<line x1="79.1" y1="430.3" x2="86.8" y2="430.3" stroke="#1a1a1a" stroke-width="1.05" />
<line x1="79.1" y1="432.59999999999997" x2="86.8" y2="432.59999999999997" stroke="#1a1a1a" stroke-width="1.05" />
<text x="89.67" y="434.7" font-size="11.8" fill="#1a1a1a" textLength="24.69" lengthAdjust="spacingAndGlyphs">.036</text>
<line x1="79.1" y1="437.1" x2="100.9" y2="437.1" stroke="#1a1a1a" stroke-width="1.3" />
<text x="414.95" y="449.5" font-size="11.8" font-style="italic" fill="#1a1a1a">P</text>
<line x1="426.0" y1="445.1" x2="434.3" y2="445.1" stroke="#1a1a1a" stroke-width="1.05" />
<line x1="426.0" y1="447.4" x2="434.3" y2="447.4" stroke="#1a1a1a" stroke-width="1.05" />
<text x="436.67" y="449.5" font-size="11.8" fill="#1a1a1a" textLength="24.75" lengthAdjust="spacingAndGlyphs">.009</text>
<line x1="424.3" y1="455.7" x2="447.3" y2="455.7" stroke="#1a1a1a" stroke-width="1.3" />
<text x="463.55" y="384.5" font-size="11.8" font-style="italic" fill="#1a1a1a">P</text>
<line x1="474.0" y1="380.1" x2="482.3" y2="380.1" stroke="#1a1a1a" stroke-width="1.05" />
<line x1="474.0" y1="382.4" x2="482.3" y2="382.4" stroke="#1a1a1a" stroke-width="1.05" />
<text x="484.85" y="384.5" font-size="11.8" fill="#1a1a1a" textLength="25.13" lengthAdjust="spacingAndGlyphs">.017</text>
<line x1="474.5" y1="389.2" x2="496.3" y2="389.2" stroke="#1a1a1a" stroke-width="1.3" />
</svg></body></html>
